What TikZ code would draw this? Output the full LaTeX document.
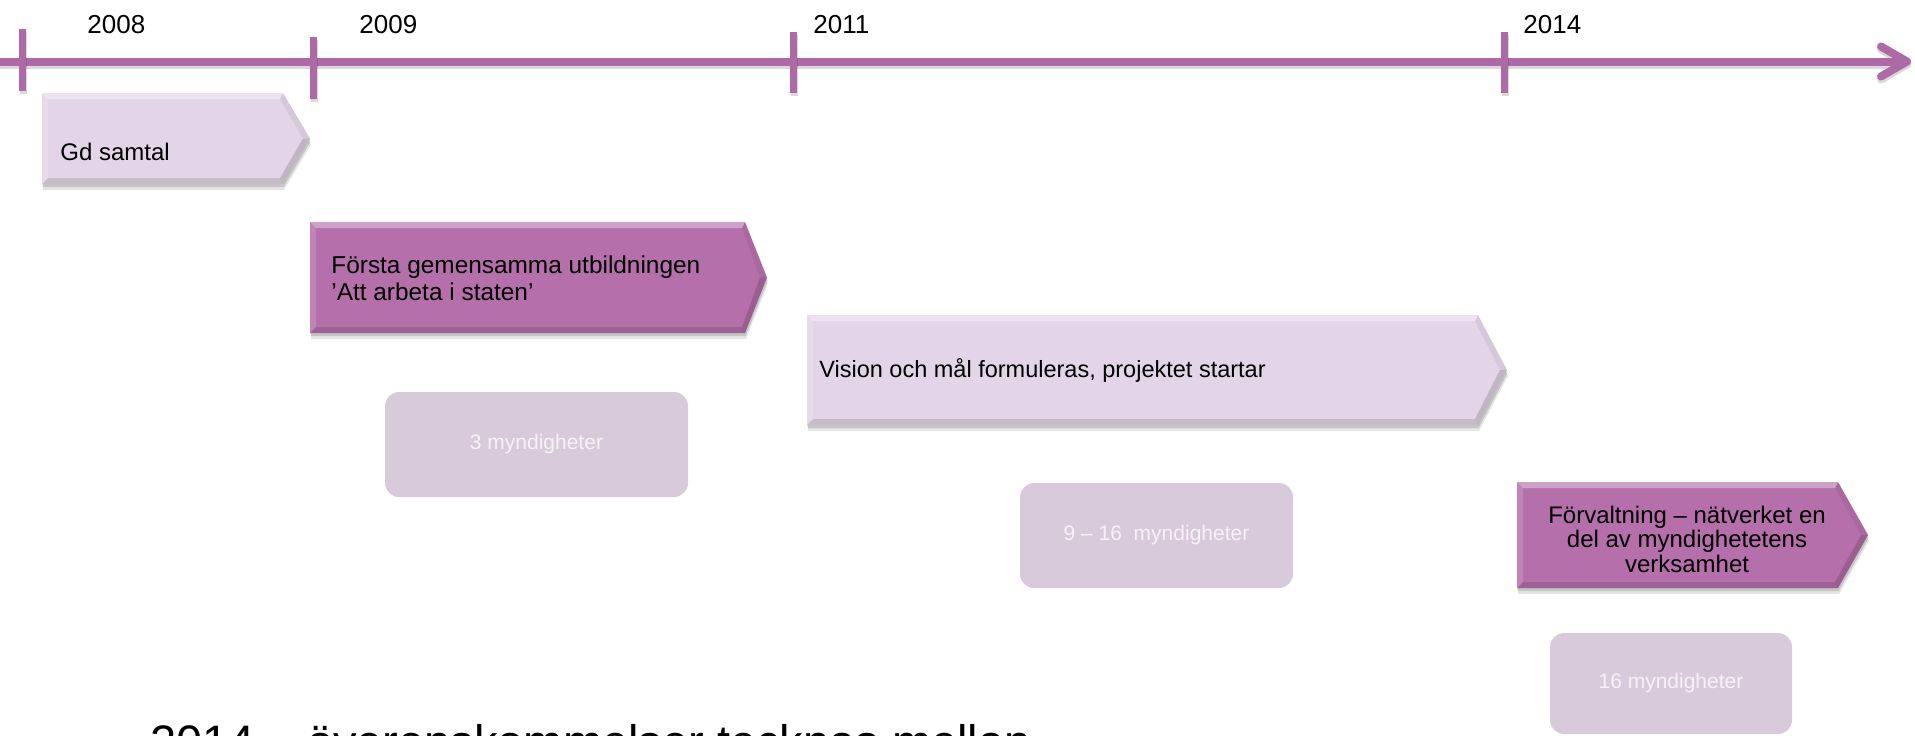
\documentclass[tikz,border=0pt]{standalone}
\usepackage{fontspec}
\setmainfont{Liberation Sans}
\usetikzlibrary{arrows.meta, shadows}

\definecolor{axispurple}{RGB}{174,106,166}
\definecolor{darkphase}{RGB}{181,111,171}
\definecolor{lightphase}{RGB}{227,213,231}
\definecolor{countfill}{RGB}{217,202,219}
\definecolor{countink}{RGB}{246,241,247}

% left, top, body end, bottom, tip, colour
\newcommand{\phasebox}[6]{%
  \fill[#6, boxshadow] (#1,#2) -- (#3,#2) -- (#5,{(#2+#4)/2}) -- (#3,#4) -- (#1,#4) -- cycle;
  \fill[white, opacity=.35] (#1,#2) -- (#3,#2) -- ({#3-3},{#2+6}) -- ({#1+6},{#2+6}) -- cycle;
  \fill[white, opacity=.15] (#1,#2) -- ({#1+6},{#2+6}) -- ({#1+6},{#4-6}) -- (#1,#4) -- cycle;
  \fill[black, opacity=.12] (#1,#4) -- ({#1+6},{#4-6}) -- ({#3-3},{#4-6}) -- (#3,#4) -- cycle;
  \fill[black, opacity=.06] (#3,#2) -- (#5,{(#2+#4)/2}) -- ({#5-7},{(#2+#4)/2}) -- ({#3-3},{#2+6}) -- cycle;
  \fill[black, opacity=.15] (#3,#4) -- (#5,{(#2+#4)/2}) -- ({#5-7},{(#2+#4)/2}) -- ({#3-3},{#4-6}) -- cycle;
}

\begin{document}
\begin{tikzpicture}[x=0.5pt, y=-0.5pt,
    axisline/.style={draw=axispurple, line width=4pt},
    axisshadow/.style={draw=black, opacity=.15, line width=4pt},
    yearlabel/.style={anchor=base west, inner sep=0pt, font=\fontsize{13}{15}\selectfont},
    phasetext/.style={inner sep=0pt, font=\fontsize{12}{13.5}\selectfont},
    countbox/.style={shape=rectangle, rounded corners=7pt, fill=countfill, text=countink, font=\fontsize{10.5}{12}\selectfont},
    boxshadow/.style={
        preaction={fill=black, opacity=.10, transform canvas={xshift=.5pt, yshift=-3pt}},
        preaction={fill=black, opacity=.14, transform canvas={xshift=.3pt, yshift=-1.5pt}}},
]
\useasboundingbox (0,0) rectangle (1915,735);
\clip (0,0) rectangle (1915,735);

\coordinate (axstart) at (0,61.5);
\coordinate (axend) at (1911,61.5);
\draw[axisshadow, -{Straight Barb[length=13pt, width=15pt, round]}, transform canvas={yshift=-1.5pt}] (axstart) -- (axend);
\draw[axisline, -{Straight Barb[length=13pt, width=15pt, round]}] (axstart) -- (axend);

\foreach \tx/\ta/\tb in {22/29/91, 313/37/99, 793/32/93, 1504/32/93} {
    \draw[axisshadow, line width=3.5pt, transform canvas={xshift=.8pt, yshift=-1.5pt}] (\tx,\ta) -- (\tx,\tb);
    \draw[axisline, line width=3.5pt] (\tx,\ta) -- (\tx,\tb);
}

\node[yearlabel] (y2008) at (87,33) {2008};
\node[yearlabel] (y2009) at (359,33) {2009};
\node[yearlabel] (y2011) at (813,33) {2011};
\node[yearlabel] (y2014) at (1523,33) {2014};

\phasebox{42}{93}{283}{184}{310}{lightphase}
\phasebox{310}{222}{745}{333}{767}{darkphase}
\phasebox{807}{315}{1478}{425}{1507}{lightphase}
\phasebox{1517}{482}{1838}{588}{1868}{darkphase}

\node[phasetext, anchor=base west] (gd) at (60,160) {Gd samtal};
\node[phasetext, anchor=west, align=left, font=\fontsize{12.2}{13.5}\selectfont] (forsta) at (331,278) {Första gemensamma utbildningen\\’Att arbeta i staten’};
\node[phasetext, anchor=base west, font=\fontsize{11.75}{13.5}\selectfont] (vision) at (819,377) {Vision och mål formuleras, projektet startar};
\node[phasetext, align=center, font=\fontsize{12}{12.25}\selectfont] (forvaltning) at (1687,539) {Förvaltning – nätverket en\\del av myndighetetens\\verksamhet};

\node[countbox, minimum width=151.5pt, minimum height=52.5pt] (tre) at (536.5,444.5) {3 myndigheter};
\node[countbox, minimum width=136.5pt, minimum height=52.5pt] (nio) at (1156.5,535.5) {9 – 16\ \ myndigheter};
\node[countbox, minimum width=121pt, minimum height=50.5pt] (sexton) at (1671,683.5) {16 myndigheter};

\node[anchor=base west, inner sep=0pt, font=\fontsize{23.5}{28}\selectfont] (avtal) at (150,758) {2014 – överenskommelser tecknas mellan};
\end{tikzpicture}
\end{document}
